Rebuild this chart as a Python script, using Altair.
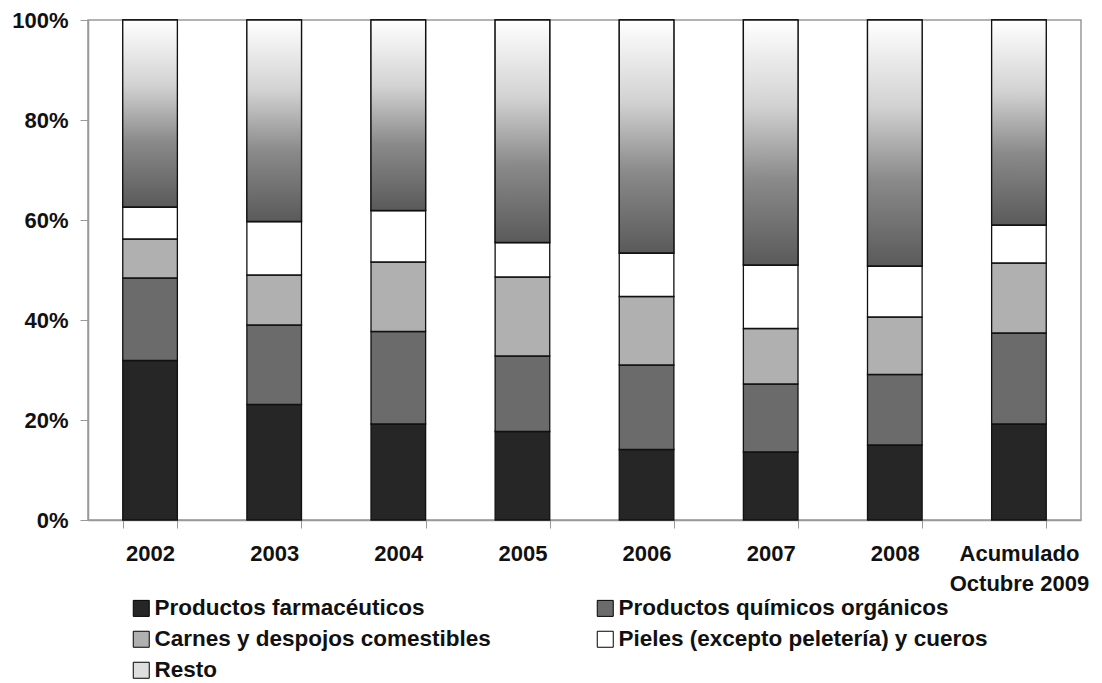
import altair as alt
import pandas as pd

categorias = ["2002", "2003", "2004", "2005", "2006", "2007", "2008", "Acumulado Octubre 2009"]
series = [
    "Productos farmacéuticos",
    "Productos químicos orgánicos",
    "Carnes y despojos comestibles",
    "Pieles (excepto peletería) y cueros",
    "Resto",
]
farmaceuticos = [31.9, 23.1, 19.2, 17.7, 14.1, 13.6, 15.0, 19.2]
quimicos = [16.5, 15.9, 18.5, 15.1, 16.9, 13.6, 14.1, 18.2]
carnes = [7.8, 10.0, 13.9, 15.8, 13.7, 11.1, 11.5, 14.0]
pieles = [6.4, 10.7, 10.3, 6.9, 8.7, 12.7, 10.2, 7.6]
resto = [37.4, 40.3, 38.1, 44.5, 46.6, 49.0, 49.2, 41.0]
colores = ["#262626", "#6b6b6b", "#b0b0b0", "#ffffff", "#dedede"]

rows = []
for i, (s, vals) in enumerate(zip(series, [farmaceuticos, quimicos, carnes, pieles, resto])):
    for c, v in zip(categorias, vals):
        rows.append({"cat": c, "serie": s, "valor": v, "orden": i})
df = pd.DataFrame(rows)

FONT = "Liberation Sans"

x_enc = alt.X(
    "cat:N",
    sort=categorias,
    scale=alt.Scale(paddingInner=0.56, paddingOuter=0.28),
    axis=alt.Axis(
        title=None,
        labelAngle=0,
        labelFontSize=22,
        labelFontWeight="bold",
        labelColor="#111",
        labelPadding=15,
        labelLineHeight=30,
        tickBand="extent",
        tickSize=8,
        labelExpr="datum.value == 'Acumulado Octubre 2009' ? ['Acumulado', 'Octubre 2009'] : datum.value",
    ),
)
y_scale = alt.Scale(domain=[0, 100], nice=False)

base = alt.Chart(df).transform_stack(
    stack="valor",
    groupby=["cat"],
    as_=["y0", "y1"],
    sort=[alt.SortField("orden", order="ascending")],
)

bars = base.mark_bar(stroke="#111", strokeWidth=1.3).encode(
    x=x_enc,
    y=alt.Y(
        "y0:Q",
        scale=y_scale,
        axis=alt.Axis(
            title=None,
            values=[0, 20, 40, 60, 80, 100],
            labelExpr="datum.value + '%'",
            labelFontSize=22,
            labelFontWeight="bold",
            labelColor="#111",
            labelPadding=12,
            tickSize=8,
            grid=False,
        ),
    ),
    y2="y1:Q",
    color=alt.Color(
        "serie:N",
        scale=alt.Scale(domain=series, range=colores),
        legend=alt.Legend(
            title=None,
            orient="none",
            direction="horizontal",
            legendX=42,
            legendY=577,
            columns=2,
            columnPadding=103,
            rowPadding=8,
            symbolType="square",
            symbolSize=256,
            symbolStrokeColor="#000",
            symbolStrokeWidth=1,
            symbolOpacity=1,
            labelFontSize=22.5,
            labelFontWeight="bold",
            labelColor="#111",
            labelLimit=600,
            labelOffset=2,
        ),
    ),
)

gradiente = alt.Gradient(
    gradient="linear",
    stops=[
        alt.GradientStop(offset=0, color="#5a5a5a"),
        alt.GradientStop(offset=0.35, color="#8a8a8a"),
        alt.GradientStop(offset=0.65, color="#d2d2d2"),
        alt.GradientStop(offset=1, color="#ffffff"),
    ],
    x1=0, x2=0, y1=1, y2=0,
)

resto_layer = base.transform_filter("datum.serie == 'Resto'").mark_bar(
    fill=gradiente, stroke="#111", strokeWidth=1.3
).encode(
    x=alt.X("cat:N", sort=categorias),
    y=alt.Y("y0:Q", scale=y_scale),
    y2="y1:Q",
)

chart = (
    alt.layer(bars, resto_layer)
    .properties(width=993, height=500, padding={"left": 3, "top": 1, "right": 5, "bottom": 5})
    .configure(font=FONT)
    .configure_view(stroke="#999", strokeWidth=1.5)
    .configure_axis(domainColor="#999", tickColor="#999", domainWidth=1.5)
)

chart.save("out.html", embed_options={"renderer": "svg", "actions": False})
